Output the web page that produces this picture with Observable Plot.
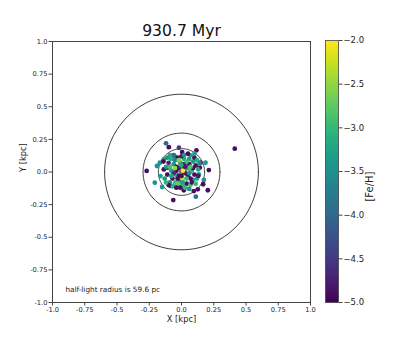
<!DOCTYPE html>
<html>
<head>
<meta charset="utf-8">
<script src="https://cdn.jsdelivr.net/npm/d3@7"></script>
<script src="https://cdn.jsdelivr.net/npm/@observablehq/plot@0.6"></script>
<style>
  html, body { margin: 0; padding: 0; background: #fff; }
  #wrap { position: relative; width: 415px; height: 340px; font-family: "DejaVu Sans", sans-serif; }
  #wrap svg { position: absolute; top: 0; }
</style>
</head>
<body>
<div id="wrap"></div>
<script>
// ---- data ----
const title = "930.7 Myr";
const annotation = "half-light radius is 59.6 pc";
const halfLightKpc = 0.0596;
const ringRadii = [0.0596, 0.179, 0.298, 0.596];
const axisTicks = [-1, -0.75, -0.5, -0.25, 0, 0.25, 0.5, 0.75, 1];
const axisTickLabels = ["-1.0", "-0.75", "-0.5", "-0.25", "0.0", "0.25", "0.5", "0.75", "1.0"];
const cbarTicks = [-5, -4.5, -4, -3.5, -3, -2.5, -2];

const starX = [
  0.413, -0.27, -0.12, -0.098, -0.02, 0.005, 0.116, 0.07, -0.054, -0.137, -0.168, -0.19,
  0.186, 0.147, 0.212, 0.173, 0.168, -0.163, -0.207, -0.15, -0.085, 0.018, 0.095, 0.126,
  0.204, 0.111, -0.064, -0.047, 0.023, 0.134, 0.142, -0.111, -0.137,
  0.00, -0.02, 0.03, -0.04, 0.05, 0.01, -0.01, 0.06, -0.06, -0.07, 0.08, -0.08, 0.02, -0.03,
  0.09, -0.05, 0.04, 0.11, -0.10, -0.11, 0.10, 0.00, -0.02, 0.06, -0.08, 0.07, -0.09, 0.12,
  -0.12, 0.01, -0.01, 0.03, -0.04, 0.02, -0.05, 0.05, -0.06, 0.07, -0.03, 0.04, 0.09, -0.09,
  0.00, 0.03, -0.07, 0.10, -0.11, 0.13, -0.13, 0.08, -0.02, 0.01, -0.03, 0.06, -0.01, 0.11,
  -0.10, 0.02, -0.06, 0.14, -0.14, 0.05, 0.12, -0.12, 0.00, -0.04, 0.04, 0.09, -0.08, 0.03,
  -0.02, 0.01, 0.07, -0.05, 0.00, 0.10, -0.09, 0.06, -0.04, 0.13
];
const starY = [
  0.179, 0.008, 0.22, 0.19, 0.186, 0.153, 0.166, 0.128, 0.122, 0.097, 0.071, 0.046,
  0.071, 0.071, 0.015, -0.061, -0.094, -0.031, -0.082, -0.115, -0.107, -0.14, -0.146, -0.133,
  -0.14, -0.189, -0.215, -0.082, -0.115, -0.018, 0.033, 0.033, 0.02,
  0.00, 0.03, 0.02, -0.02, -0.03, -0.05, 0.07, 0.06, 0.06, -0.05, 0.01, 0.01, 0.10, 0.11,
  -0.06, -0.09, -0.09, 0.05, 0.07, -0.02, -0.02, -0.10, -0.07, 0.10, 0.10, -0.10, -0.08, -0.05,
  0.04, 0.04, -0.02, -0.01, 0.01, 0.06, 0.09, 0.03, -0.01, -0.05, -0.05, 0.08, 0.08, 0.04,
  0.12, -0.12, -0.11, 0.11, 0.11, 0.02, -0.05, -0.08, 0.09, 0.01, -0.09, -0.01, -0.12, -0.09,
  -0.10, 0.13, 0.13, 0.07, 0.08, 0.14, 0.09, -0.08, 0.05, 0.04, -0.05, 0.03, -0.03, 0.04,
  -0.03, -0.08, 0.04, 0.03, -0.03, 0.14, 0.13, -0.13, -0.12, -0.03
];
const starFeH = [
  -4.9, -4.9, -4.0, -4.9, -4.5, -4.9, -4.9, -3.3, -3.4, -3.5, -3.4, -3.5,
  -3.4, -4.9, -4.9, -3.4, -4.9, -3.3, -3.5, -3.4, -4.9, -4.9, -4.9, -4.9,
  -4.9, -3.9, -4.9, -3.4, -3.2, -3.3, -4.9, -4.8, -4.9,
  -4.9, -4.8, -3.2, -3.0, -4.9, -2.2, -3.3, -4.9, -3.4, -4.8, -3.0, -3.3, -3.1, -4.9,
  -3.3, -2.9, -4.9, -4.9, -4.7, -4.9, -4.9, -3.0, -3.4, -3.3, -3.1, -2.8, -3.5, -3.2,
  -3.3, -4.9, -3.0, -4.8, -4.9, -4.8, -3.7, -3.0, -4.6, -4.9, -4.9, -2.9, -3.4, -2.9,
  -4.8, -3.0, -3.1, -4.9, -3.5, -3.3, -3.4, -4.9, -2.6, -2.0, -2.7, -3.5, -4.9, -3.0,
  -4.9, -3.4, -4.0, -3.6, -4.9, -4.9, -3.1, -3.0, -3.2, -4.9, -3.0, -4.9, -3.2, -4.8,
  -4.9, -3.3, -2.8, -2.5, -4.9, -3.3, -3.2, -3.5, -4.9, -4.8
];

// ---- build tables ----
const n = Math.min(starX.length, starY.length, starFeH.length);
const stars = d3.range(n).map(i => ({x: starX[i], y: starY[i], feh: starFeH[i]}));
const rings = ringRadii.flatMap((r, k) =>
  d3.range(0, 361, 2).map(a => ({k, x: r * Math.cos(a * Math.PI / 180), y: r * Math.sin(a * Math.PI / 180)})));

const colorOpts = {type: "linear", domain: [-5, -2], scheme: "viridis"};
const axisColor = "#444";
const font = "DejaVu Sans, sans-serif";

const main = Plot.plot({
  width: 415, height: 340,
  marginLeft: 52, marginRight: 105, marginTop: 41, marginBottom: 38,
  style: {fontFamily: font, fontSize: "6.7px", color: "#222", background: "transparent"},
  x: {domain: [-1, 1]},
  y: {domain: [-1, 1]},
  color: colorOpts,
  marks: [
    Plot.line(rings, {x: "x", y: "y", z: "k", stroke: "#222", strokeWidth: 0.9}),
    Plot.dot(stars, {x: "x", y: "y", fill: "feh", r: 2.4, stroke: null}),
    Plot.text([annotation], {x: -0.9, y: -0.9, text: d => d, textAnchor: "start", fontSize: 7.3, fill: "#222"}),
    Plot.frame({stroke: axisColor, strokeWidth: 1}),
    Plot.axisX({ticks: axisTicks, tickFormat: (d, i) => axisTickLabels[axisTicks.indexOf(d)], tickSize: 3.5, tickPadding: 1.5, stroke: axisColor, label: null, fontSize: 6.7}),
    Plot.axisY({ticks: axisTicks, tickFormat: (d) => axisTickLabels[axisTicks.indexOf(d)], tickSize: 3.5, tickPadding: 1.5, stroke: axisColor, label: null, fontSize: 6.7}),
    Plot.text(["X [kpc]"], {frameAnchor: "bottom", dy: 19, lineAnchor: "bottom", fontSize: 8.3, fill: "#222"}),
    Plot.text(["Y [kpc]"], {frameAnchor: "left", dx: -29, rotate: -90, fontSize: 8.3, fill: "#222"}),
    Plot.text([title], {frameAnchor: "top", dy: -6, lineAnchor: "bottom", fontSize: 15.6, fill: "#111"})
  ]
});
main.style.left = "0px";

const cbar = Plot.plot({
  width: 115, height: 340,
  marginLeft: 25, marginRight: 77, marginTop: 40, marginBottom: 38,
  style: {fontFamily: font, fontSize: "8.5px", color: "#222", background: "transparent"},
  x: {domain: [0, 1], axis: null},
  y: {domain: [-5, -2]},
  color: colorOpts,
  marks: [
    Plot.raster({x1: 0, x2: 1, y1: -5, y2: -2, width: 1, height: 256, fill: (x, y) => y, imageRendering: "auto"}),
    Plot.frame({stroke: axisColor, strokeWidth: 0.8}),
    Plot.axisY({anchor: "right", ticks: cbarTicks, tickFormat: d3.format(".1f"), tickSize: 3.5, tickPadding: 1.5, stroke: axisColor, label: null, fontSize: 8.5}),
    Plot.text(["[Fe/H]"], {frameAnchor: "right", dx: 31, rotate: -90, fontSize: 10, fill: "#222"})
  ]
});
cbar.style.left = "300px";

const wrap = document.getElementById("wrap");
wrap.appendChild(main);
wrap.appendChild(cbar);
</script>
</body>
</html>
